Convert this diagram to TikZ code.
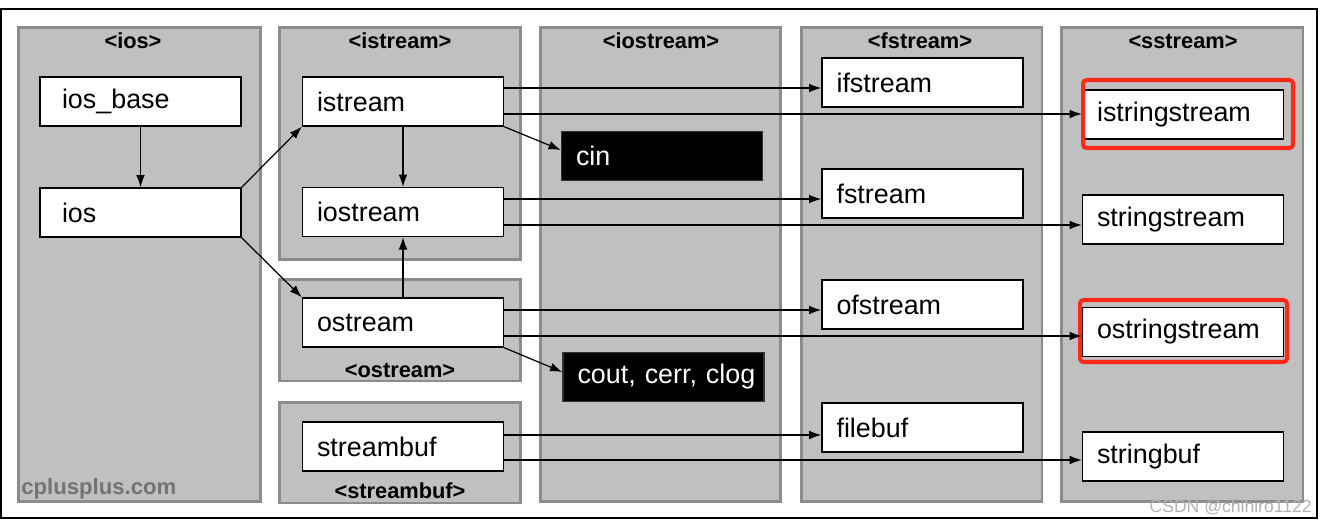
\documentclass[tikz,border=0pt]{standalone}
\usepackage{fontspec}
\setmainfont{Liberation Sans}
\usetikzlibrary{arrows.meta,calc}
\definecolor{panelgray}{RGB}{192,192,192}
\definecolor{paneledge}{RGB}{140,140,140}
\definecolor{markred}{RGB}{255,40,25}

\tikzset{
  panel/.style={draw=paneledge,line width=1.7pt,fill=panelgray,inner sep=0pt},
  hdr/.style={font=\fontsize{12.4}{13}\selectfont\bfseries,inner sep=0pt},
  cls/.style={draw=black,line width=0.8pt,fill=white,minimum width=4.02cm,minimum height=0.98cm,
    text width=3.72cm,inner xsep=0.15cm,align=left,font=\fontsize{15.3}{16}\selectfont,
    execute at begin node={\hspace*{0.14cm}}},
  deep/.style={execute at begin node={\hspace*{0.15cm}}},
  obj/.style={cls,fill=black,text=white,draw=black!80},
  hilite/.style={draw=markred,line width=2.3pt,rounded corners=2pt,inner sep=0pt},
  arr/.style={-{Latex[length=7pt,width=5pt]},line width=0.7pt}
}

\begin{document}
\begin{tikzpicture}[x=0.02cm,y=-0.02cm]
\useasboundingbox (0,0) rectangle (1327,522);
\fill[white] (0,0) rectangle (1327,522);
\draw[line width=1.2pt] (1,9) rectangle (1317,518);

% header panels
\node[panel,minimum width=4.86cm,minimum height=9.5cm] (pios) at (139.5,264.5) {};
\node[panel,minimum width=4.84cm,minimum height=4.66cm] (pistream) at (400,143.5) {};
\node[panel,minimum width=4.84cm,minimum height=2.04cm] (postream) at (400,330) {};
\node[panel,minimum width=4.84cm,minimum height=2.02cm] (pstreambuf) at (400,452.5) {};
\node[panel,minimum width=4.82cm,minimum height=9.5cm] (piostream) at (660.5,264.5) {};
\node[panel,minimum width=4.82cm,minimum height=9.5cm] (pfstream) at (921.5,264.5) {};
\node[panel,minimum width=4.84cm,minimum height=9.5cm] (psstream) at (1182,264.5) {};

\node[hdr] (hios) at (133,41) {<ios>};
\node[hdr] (histream) at (400,41) {<istream>};
\node[hdr] (hiostream) at (661,41) {<iostream>};
\node[hdr] (hfstream) at (920,41) {<fstream>};
\node[hdr] (hsstream) at (1183,41) {<sstream>};
\node[hdr] (hostream) at (400,370) {<ostream>};
\node[hdr] (hstreambuf) at (400,491) {<streambuf>};

% classes
\node[cls,deep] (iosbase) at (140.5,101.5) {ios\_base};
\node[cls,deep] (ios) at (140.5,212.5) {ios};
\node[cls] (istream) at (403,101.5) {istream};
\node[cls] (iostream) at (403,212) {iostream};
\node[cls] (ostream) at (403,322.5) {ostream};
\node[cls] (streambuf) at (403,446.5) {streambuf};
\node[obj] (cin) at (662,156) {cin};
\node[obj] (cout) at (663.5,377) {cout, cerr, clog};
\node[cls] (ifstream) at (922.5,82.5) {ifstream};
\node[cls] (fstream) at (922.5,193.5) {fstream};
\node[cls] (ofstream) at (922.5,304.5) {ofstream};
\node[cls] (filebuf) at (922.5,427.5) {filebuf};
\node[cls] (istringstream) at (1183,114.5) {istringstream};
\node[cls] (stringstream) at (1183,219.5) {stringstream};
\node[cls] (ostringstream) at (1183,332) {ostringstream};
\node[cls] (stringbuf) at (1183,456.5) {stringbuf};

% highlights
\node[hilite,minimum width=4.2cm,minimum height=1.36cm] (markis) at (1188,114) {};
\node[hilite,minimum width=4.14cm,minimum height=1.24cm] (markos) at (1183.5,331) {};

% inheritance
\draw[arr] (iosbase) -- (ios);
\draw[arr] (ios.north east) -- (istream.south west);
\draw[arr] (ios.south east) -- (ostream.north west);
\draw[arr] (istream) -- (iostream);
\draw[arr] (ostream) -- (iostream);
\draw[arr] (istream.south east) -- ([yshift=.12cm]cin.west);
\draw[arr] (ostream.south east) -- ([yshift=.1cm]cout.west);

\draw[arr] ([yshift=.27cm]istream.east) coordinate (a1) -- (a1 -| ifstream.west);
\draw[arr] ([yshift=-.25cm]istream.east) coordinate (a2) -- (a2 -| istringstream.west);
\draw[arr] ([yshift=.26cm]iostream.east) coordinate (a3) -- (a3 -| fstream.west);
\draw[arr] ([yshift=-.26cm]iostream.east) coordinate (a4) -- (a4 -| stringstream.west);
\draw[arr] ([yshift=.25cm]ostream.east) coordinate (a5) -- (a5 -| ofstream.west);
\draw[arr] ([yshift=-.27cm]ostream.east) coordinate (a6) -- (a6 -| ostringstream.west);
\draw[arr] ([yshift=.23cm]streambuf.east) coordinate (a7) -- (a7 -| filebuf.west);
\draw[arr] ([yshift=-.27cm]streambuf.east) coordinate (a8) -- (a8 -| stringbuf.west);

% watermarks
\node[anchor=west,text=gray!90!black,font=\fontsize{12.6}{13}\selectfont\bfseries,inner sep=0pt] (site) at (21,489) {cplusplus.com};
\node[anchor=east,text=gray!60,font=\fontsize{10}{11}\selectfont,inner sep=0pt] (csdn) at (1312,507) {CSDN @chihiro1122};
\end{tikzpicture}
\end{document}
